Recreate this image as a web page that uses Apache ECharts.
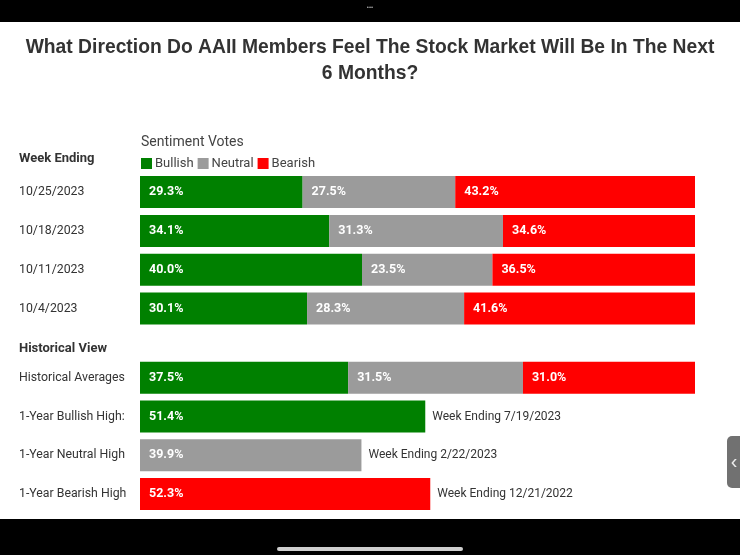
<!DOCTYPE html>
<html lang="en">
<head>
    <meta charset="UTF-8">
    <title>AAII Sentiment Survey</title>
    <script src="https://cdn.jsdelivr.net/npm/echarts@6/dist/echarts.min.js"></script>
    <style>
        html, body { margin: 0; padding: 0; background: #fff; }
    </style>
</head>
<body>
<div id="chart" style="width: 740px;height:555px"></div>
<script>
    // weekly survey rows
    var weeks = ['10/25/2023', '10/18/2023', '10/11/2023', '10/4/2023'];
    var weekBullish = [29.3, 34.1, 40.0, 30.1];
    var weekNeutral = [27.5, 31.3, 23.5, 28.3];
    var weekBearish = [43.2, 34.6, 36.5, 41.6];

    // historical rows ('-' = no bar)
    var histRows = ['Historical Averages', '1-Year Bullish High:', '1-Year Neutral High', '1-Year Bearish High'];
    var histBullish = [37.5, 51.4, '-', '-'];
    var histNeutral = [31.5, '-', 39.9, '-'];
    var histBearish = [31.0, '-', '-', 52.3];
    var histTotal = [100, 51.4, 39.9, 52.3];
    var histNotes = ['', 'Week Ending 7/19/2023', 'Week Ending 2/22/2023', 'Week Ending 12/21/2022'];

    var GREEN = '#008000', GRAY = '#9b9b9b', RED = '#ff0000';

    var chart = echarts.init(document.getElementById('chart'));

    var barLabel = {
        show: true,
        position: 'insideLeft',
        distance: 9,
        color: '#fff',
        fontFamily: 'Roboto',
        fontWeight: 'bold',
        fontSize: 12.5,
        formatter: function (p) {
            return p.value.toFixed(1) + '%';
        }
    };

    function barSeries(name, data, color, idx) {
        return {
            name: name,
            type: 'bar',
            stack: 'votes' + idx,
            xAxisIndex: idx,
            yAxisIndex: idx,
            barWidth: 32,
            data: data,
            itemStyle: { color: color },
            label: barLabel,
            emphasis: { disabled: true }
        };
    }

    var yAxisBase = {
        type: 'category',
        inverse: true,
        axisLine: { show: false },
        axisTick: { show: false },
        axisLabel: {
            align: 'left',
            margin: 121,
            color: '#333',
            fontFamily: 'Roboto',
            fontSize: 12.3
        }
    };

    var option = {
        animation: false,
        backgroundColor: '#fff',
        title: [{
            text: 'What Direction Do AAII Members Feel The Stock Market Will Be In The Next\n6 Months?',
            left: 'center',
            top: 30,
            textStyle: {
                color: '#333',
                fontFamily: 'Liberation Sans',
                fontWeight: 'bold',
                fontSize: 19.3,
                lineHeight: 26
            }
        }, {
            text: 'Sentiment Votes',
            left: 136,
            top: 130,
            textStyle: { color: '#444', fontFamily: 'Roboto', fontWeight: 'normal', fontSize: 14 }
        }, {
            text: 'Week Ending',
            left: 14,
            top: 147,
            textStyle: { color: '#333', fontFamily: 'Roboto', fontWeight: 'bold', fontSize: 13 }
        }, {
            text: 'Historical View',
            left: 14,
            top: 337,
            textStyle: { color: '#333', fontFamily: 'Roboto', fontWeight: 'bold', fontSize: 13 }
        }],
        legend: {
            data: ['Bullish', 'Neutral', 'Bearish'],
            left: 136,
            top: 152,
            icon: 'rect',
            itemWidth: 11,
            itemHeight: 11,
            itemGap: 4,
            selectedMode: false,
            textStyle: { color: '#444', fontFamily: 'Roboto', fontSize: 13, padding: [0, 0, 0, -2] }
        },
        grid: [
            { left: 140, right: 45, top: 172.6, height: 155.4 },
            { left: 140, right: 45, top: 358.5, height: 154.8 }
        ],
        xAxis: [
            { type: 'value', gridIndex: 0, min: 0, max: 100, show: false },
            { type: 'value', gridIndex: 1, min: 0, max: 100, show: false }
        ],
        yAxis: [
            Object.assign({}, yAxisBase, { gridIndex: 0, data: weeks }),
            Object.assign({}, yAxisBase, { gridIndex: 1, data: histRows })
        ],
        series: [
            barSeries('Bullish', weekBullish, GREEN, 0),
            barSeries('Neutral', weekNeutral, GRAY, 0),
            barSeries('Bearish', weekBearish, RED, 0),
            barSeries('Bullish', histBullish, GREEN, 1),
            barSeries('Neutral', histNeutral, GRAY, 1),
            barSeries('Bearish', histBearish, RED, 1),
            {
                // invisible overlay carrying the "Week Ending" notes
                name: 'notes',
                type: 'bar',
                xAxisIndex: 1,
                yAxisIndex: 1,
                barWidth: 32,
                barGap: '-100%',
                silent: true,
                z: 1,
                itemStyle: { color: 'rgba(0,0,0,0)' },
                label: {
                    show: true,
                    position: 'right',
                    distance: 7,
                    color: '#333',
                    fontFamily: 'Roboto',
                    fontSize: 12,
                    formatter: function (p) {
                        return histNotes[p.dataIndex];
                    }
                },
                data: histTotal
            }
        ],
        graphic: [
            // phone frame bits from the screenshot
            { type: 'rect', shape: { x: 0, y: 0, width: 740, height: 22 }, style: { fill: '#000' }, silent: true },
            { type: 'rect', shape: { x: 0, y: 519, width: 740, height: 36 }, style: { fill: '#000' }, silent: true },
            { type: 'text', x: 370, y: 7, style: { text: '•••', fill: '#aaa', fontSize: 6, align: 'center', verticalAlign: 'middle' }, silent: true },
            { type: 'rect', shape: { x: 277, y: 547, width: 186, height: 4, r: 2 }, style: { fill: '#cfcfcf' }, silent: true },
            { type: 'rect', shape: { x: 727, y: 436, width: 20, height: 52, r: 5 }, style: { fill: '#717171' }, silent: true },
            { type: 'text', x: 734, y: 462, style: { text: '‹', fill: '#eee', fontSize: 20, align: 'center', verticalAlign: 'middle' }, silent: true }
        ]
    };
    chart.setOption(option);
</script>
</body>
</html>
